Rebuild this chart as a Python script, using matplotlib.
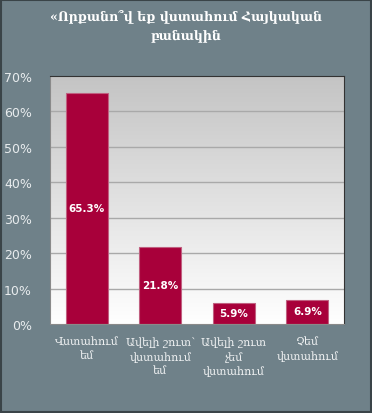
import numpy as np
import matplotlib.pyplot as plt
from matplotlib.patches import Rectangle

categories = ['Վստահում\nեմ', 'Ավելի շուտ՝\nվստահում\nեմ', 'Ավելի շուտ\nչեմ\nվստահում', 'Չեմ\nվստահում']
values = [65.3, 21.8, 5.9, 6.9]
yticks = [0, 10, 20, 30, 40, 50, 60, 70]
title = '«Որքանո՞վ եք վստահում Հայկական\nբանակին'

bg_color = '#6f8189'
bar_color = '#a8003a'
fonts = ['DejaVu Serif', 'DejaVu Sans']

fig = plt.figure(figsize=(3.72, 4.14), dpi=100)
fig.patch.set_facecolor(bg_color)
fig.patches.append(Rectangle((0.003, 0.003), 0.994, 0.994, transform=fig.transFigure,
                             fill=False, edgecolor='#3a4448', linewidth=1.5))

ax = fig.add_axes([0.134, 0.215, 0.791, 0.599])
ax.set_xlim(-0.5, len(categories) - 0.5)
ax.set_ylim(0, 70)

# grey to white gradient behind the bars
grad = np.linspace(0, 1, 256).reshape(-1, 1)
ax.imshow(grad, extent=[-0.5, len(categories) - 0.5, 0, 70], aspect='auto',
          cmap=plt.matplotlib.colors.LinearSegmentedColormap.from_list('g', ['#ffffff', '#c4c4c4']),
          origin='lower', zorder=0)

for t in yticks[1:-1]:
    ax.axhline(t, color='#a9a9a9', linewidth=1, zorder=1)

x = np.arange(len(categories))
bars = ax.bar(x, values, width=0.57, color=bar_color, edgecolor='#c06080', linewidth=0.8, zorder=2)

for i, v in enumerate(values):
    ypos = v / 2 if v > 15 else v / 2 + 0.2
    ax.text(x[i], ypos, '%.1f%%' % v, ha='center', va='center', color='white',
            fontsize=7.5, fontweight='bold', zorder=3)

ax.set_yticks(yticks)
ax.set_yticklabels(['%d%%' % t for t in yticks], color='#e8ecee', fontsize=9)
ax.set_xticks(x)
ax.set_xticklabels(categories, color='#f0f2f3', fontsize=8, family=fonts, linespacing=1.45)
ax.tick_params(axis='y', length=0, pad=13)
ax.tick_params(axis='x', length=0, pad=9)
for s in ['left', 'bottom']:
    ax.spines[s].set_color('#8a8a8a')
for s in ['top', 'right']:
    ax.spines[s].set_color('#333333')

fig.text(0.5, 0.937, title, ha='center', va='center', color='white', fontsize=9,
         fontweight='bold', family=fonts, linespacing=1.6)

fig.savefig('out.png', dpi=100, facecolor=fig.get_facecolor())
